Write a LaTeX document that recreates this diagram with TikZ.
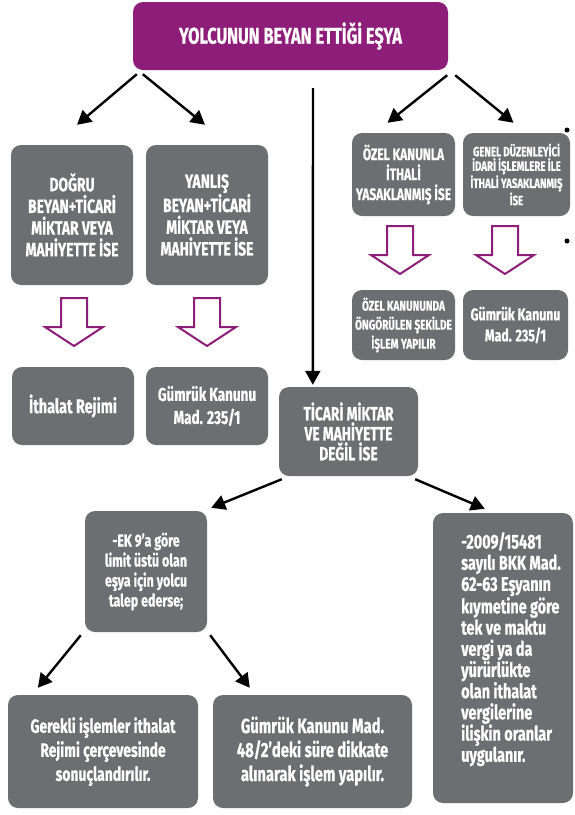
\documentclass[tikz,border=0pt]{standalone}
\usepackage{fontspec}
\setmainfont[FakeStretch=0.72, BoldFeatures={FakeBold=0.6}]{Fira Sans}
\usetikzlibrary{arrows.meta,calc}

\definecolor{boxgray}{HTML}{6D6E71}
\definecolor{purp}{HTML}{8E1C79}
\newcommand\setfs[2]{\fontsize{#1}{#2}\selectfont}

\tikzset{
  box/.style={fill=boxgray, rounded corners=10pt, text=white, align=center, inner sep=0pt},
  arr/.style={line width=2.4pt, -{Triangle[width=15pt,length=14pt]}},
  downarrow/.pic={\draw[purp, line width=2pt, fill=white, line join=miter]
    (-13,0) -- (-13,29) -- (-29,29) -- (0,48) -- (29,29) -- (13,29) -- (13,0) -- cycle;},
  bullet/.style={circle, fill=black, inner sep=0pt, minimum size=5pt}
}

\begin{document}
\begin{tikzpicture}[x=1pt,y=-1pt]
\useasboundingbox (0,0) rectangle (575,815);

% Title
\node[box, fill=purp, minimum width=315, minimum height=68, font=\bfseries\setfs{22.8}{26}] (title) at (290.5,36) {YOLCUNUN BEYAN ETTİĞİ EŞYA};

% Left branch
\node[box, minimum width=122, minimum height=140, font=\bfseries\setfs{19.3}{21.7}] (dogru) at (72,215) {DOĞRU\\BEYAN+TİCARİ\\MİKTAR VEYA\\MAHİYETTE İSE};
\node[box, minimum width=122, minimum height=140, font=\bfseries\setfs{19.3}{21.7}] (yanlis) at (207,215) {YANLIŞ\\BEYAN+TİCARİ\\MİKTAR VEYA\\MAHİYETTE İSE};
\pic at (74,298) {downarrow};
\pic at (207,298) {downarrow};
\node[box, minimum width=122, minimum height=78, font=\bfseries\setfs{20}{23}] (ithalat) at (73,406) {İthalat Rejimi};
\node[box, minimum width=122, minimum height=78, font=\bfseries\setfs{18.7}{23}] (kanun1) at (207,406) {Gümrük Kanunu\\Mad. 235/1};

% Right branch
\node[box, minimum width=103, minimum height=83, font=\bfseries\setfs{16.6}{20}] (ozel) at (403.5,174.5) {ÖZEL KANUNLA\\İTHALİ\\YASAKLANMIŞ İSE};
\node[box, minimum width=107, minimum height=83, font=\bfseries\setfs{13.5}{14.5}] (genel) at (516.5,174.5) {GENEL DÜZENLEYİCİ\\İDARİ İŞLEMLERE İLE\\İTHALİ YASAKLANMIŞ\\İSE};
\pic at (400,226) {downarrow};
\pic at (505,226) {downarrow};
\node[box, minimum width=103, minimum height=70, font=\bfseries\setfs{14}{19}] (ozelkanun) at (403.5,325) {ÖZEL KANUNUNDA\\ÖNGÖRÜLEN ŞEKİLDE\\İŞLEM YAPILIR};
\node[box, minimum width=105, minimum height=70, font=\bfseries\setfs{17.1}{21}] (kanun2) at (515.5,325) {Gümrük Kanunu\\Mad. 235/1};
\node[bullet] (dot1) at (567,130) {};
\node[bullet] (dot2) at (567,241) {};

% Middle branch
\coordinate (mid) at (313,88);
\node[box, minimum width=139, minimum height=89, font=\bfseries\setfs{19.1}{20}] (ticari) at (348.5,431.5) {TİCARİ MİKTAR\\VE MAHİYETTE\\DEĞİL İSE};
\node[box, minimum width=122, minimum height=121, font=\bfseries\setfs{17.3}{20}] (ek) at (146,571.5) {-EK 9'a göre\\limit üstü olan\\eşya için yolcu\\talep ederse;};
\node[box, minimum width=140, minimum height=290] (vergi) at (503,658) {};
\node[text=white, anchor=north west, align=left, inner sep=0pt, font=\bfseries\setfs{20}{21.2}] (vergitxt) at (461,532) {-2009/15481\\sayılı BKK Mad.\\62-63 Eşyanın\\kıymetine göre\\tek ve maktu\\vergi ya da\\yürürlükte\\olan ithalat\\vergilerine\\ilişkin oranlar\\uygulanır.};
\node[box, minimum width=190, minimum height=113, font=\bfseries\setfs{19.3}{24}] (gerekli) at (103,751.5) {Gerekli işlemler ithalat\\Rejimi çerçevesinde\\sonuçlandırılır.};
\node[box, minimum width=199, minimum height=113, font=\bfseries\setfs{20.5}{24}] (kanun3) at (312.5,751.5) {Gümrük Kanunu Mad.\\48/2'deki süre dikkate\\alınarak işlem yapılır.};

% Arrows
\draw[arr] ($(title.south west)+(4,4)$) -- ($(dogru.north)+(5,-20)$);
\draw[arr] ($(title.south west)+(10,4)$) -- ($(yanlis.north)+(-2,-20)$);
\draw[arr] ($(title.south east)+(-1,5)$) -- ($(ozel.north)+(-16,-10)$);
\draw[arr] ($(title.south east)+(7,5)$) -- ($(genel.north)+(-3,-10)$);
\draw[arr] (mid) -- ($(ticari.north west)+(34,-2)$);
\draw[arr] ($(ticari.south west)+(3,3)$) -- ($(ek.north east)+(4,-3)$);
\draw[arr] ($(ticari.south east)+(-3,3)$) -- ($(vergi.north west)+(52,-4)$);
\draw[arr] ($(ek.south west)+(-4,3)$) -- ($(gerekli.north west)+(30,-7)$);
\draw[arr] ($(ek.south east)+(3,3)$) -- ($(kanun3.north west)+(37,-7)$);
\end{tikzpicture}
\end{document}
